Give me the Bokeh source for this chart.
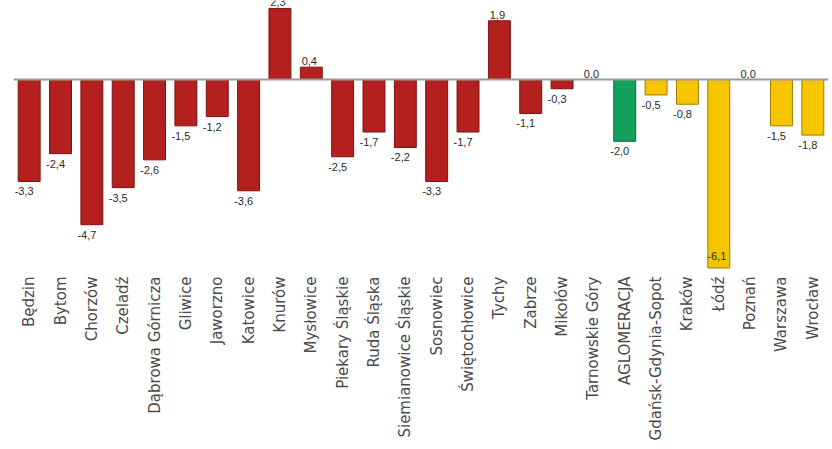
import math
from bokeh.plotting import figure
from bokeh.models import ColumnDataSource, FactorRange, Range1d, Span
from bokeh.core.properties import value
from bokeh.embed import file_html
from bokeh.resources import INLINE

categories = ["Będzin", "Bytom", "Chorzów", "Czeladź", "Dąbrowa Górnicza", "Gliwice",
              "Jaworzno", "Katowice", "Knurów", "Mysłowice", "Piekary Śląskie",
              "Ruda Śląska", "Siemianowice Śląskie", "Sosnowiec", "Świętochłowice",
              "Tychy", "Zabrze", "Mikołów", "Tarnowskie Góry", "AGLOMERACJA",
              "Gdańsk-Gdynia-Sopot", "Kraków", "Łódź", "Poznań", "Warszawa", "Wrocław"]
values = [-3.3, -2.4, -4.7, -3.5, -2.6, -1.5, -1.2, -3.6, 2.3, 0.4, -2.5, -1.7, -2.2,
          -3.3, -1.7, 1.9, -1.1, -0.3, 0.0, -2.0, -0.5, -0.8, -6.1, 0.0, -1.5, -1.8]
groups = ["silesia"] * 19 + ["agglomeration"] + ["other"] * 6

fill_by_group = {"silesia": "#B3201D", "agglomeration": "#12A05A", "other": "#F6C500"}
line_by_group = {"silesia": "#7A1412", "agglomeration": "#0B6B3C", "other": "#A07E00"}

FRAME_H = 270
ZERO_PX = 79
PX_PER_UNIT = 30.9
y_max = ZERO_PX / PX_PER_UNIT
y_min = -(FRAME_H - ZERO_PX) / PX_PER_UNIT

fills = [fill_by_group[g] for g in groups]
lines = [line_by_group[g] for g in groups]
labels = [("%.1f" % v).replace(".", ",") for v in values]

label_y, label_base, label_dx = [], [], []
for v in values:
    if v < 0:
        below = v - 6 / PX_PER_UNIT
        if below - 12 / PX_PER_UNIT < y_min:
            label_y.append(v + 12 / PX_PER_UNIT)
            label_base.append("middle")
            label_dx.append(-2)
        else:
            label_y.append(below)
            label_base.append("top")
            label_dx.append(-5)
    else:
        label_y.append(v + 2 / PX_PER_UNIT)
        label_base.append("bottom")
        label_dx.append(-2)

src = ColumnDataSource(dict(cat=categories, val=values, fill=fills, line=lines,
                            lab=labels, ly=label_y, base=label_base, dx=label_dx))

p = figure(x_range=FactorRange(*categories, range_padding=0),
           y_range=Range1d(y_min, y_max),
           frame_width=815, frame_height=FRAME_H,
           min_border_left=13, min_border_right=2, min_border_top=0, min_border_bottom=0,
           output_backend="svg", toolbar_location=None)

p.vbar(x="cat", top="val", bottom=0, width=0.7, source=src,
       fill_color="fill", line_color="line", line_width=1)

p.add_layout(Span(location=0, dimension="width", line_color="#9A9A9A", line_width=2))

p.text(x="cat", y="ly", text="lab", source=src, x_offset="dx",
       text_align="center", text_baseline="base",
       text_font=value("Liberation Sans"), text_font_size="11px",
       text_color="#2A2A2A")

p.yaxis.visible = False
p.xgrid.visible = False
p.ygrid.visible = False
p.outline_line_color = None
p.xaxis.axis_line_color = None
p.xaxis.major_tick_line_color = None
p.xaxis.minor_tick_line_color = None
p.xaxis.major_tick_out = 0
p.xaxis.major_tick_in = 0
p.xaxis.major_label_orientation = math.pi / 2
p.xaxis.major_label_standoff = 6
p.xaxis.major_label_text_font = "DejaVu Sans"
p.xaxis.major_label_text_font_size = "15px"
p.xaxis.major_label_text_color = "#4A4A4A"

open("out.html", "w").write(file_html(p, INLINE))
